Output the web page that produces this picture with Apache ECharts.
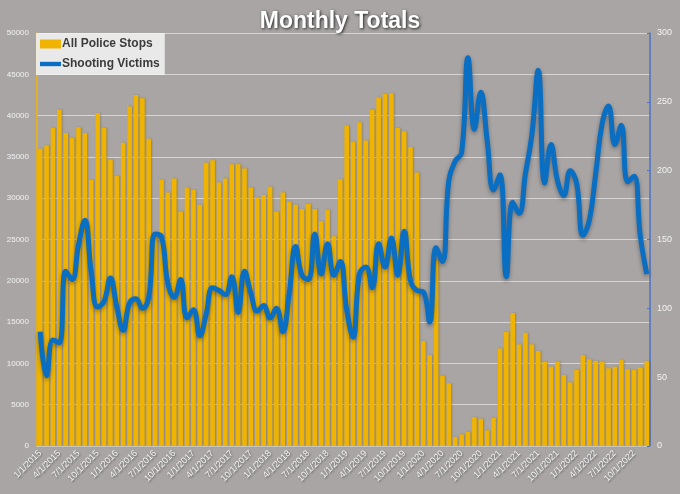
<!DOCTYPE html>
<html>
<head>
<meta charset="utf-8">
<script src="https://cdn.jsdelivr.net/npm/echarts@6/dist/echarts.min.js"></script>
<style>
html,body{margin:0;padding:0;background:#a9a5a5;}
#chart{width:680px;height:494px;}
</style>
</head>
<body>
<div id="chart"></div>
<script>
// Category labels: monthly, 1/1/2015 .. 12/1/2022
const years = [2015, 2016, 2017, 2018, 2019, 2020, 2021, 2022];
const monthNums = [1,2,3,4,5,6,7,8,9,10,11,12];
const categories = [];
years.forEach(y => monthNums.forEach(m => categories.push(m + '/1/' + y)));

// All Police Stops (left axis)
const policeStops = [
  36000, 36400, 38500, 40700, 37900, 37300, 38600, 37900, 32200, 40300, 38500, 34700,
  32700, 36700, 41100, 42500, 42100, 37200, 25500, 32200, 30700, 32400, 28400, 31300,
  31000, 29200, 34300, 34600, 31900, 32400, 34100, 34100, 33600, 31300, 30100, 30400,
  31400, 28400, 30700, 29600, 29200, 28700, 29300, 28700, 27200, 28600, 25400, 32300,
  38800, 36800, 39200, 37000, 40700, 42200, 42600, 42700, 38500, 38100, 36200, 33100,
  12700, 11000, 22500, 8500, 7600, 1100, 1400, 1700, 3500, 3300, 1900, 3400,
  11800, 13800, 16100, 12300, 13700, 12300, 11500, 10200, 9600, 10200, 8600, 7700,
  9200, 11000, 10500, 10300, 10200, 9400, 9600, 10400, 9300, 9200, 9500, 10300
];

// Shooting Victims (right axis)
const shootingVictims = [
  83, 51, 77, 75, 127, 121, 146, 164, 126, 101, 105, 122,
  101, 84, 104, 107, 100, 108, 154, 152, 118, 108, 121, 93,
  99, 80, 96, 115, 113, 110, 123, 97, 127, 111, 98, 102,
  93, 100, 83, 111, 145, 124, 121, 154, 125, 147, 124, 134,
  99, 79, 125, 130, 115, 147, 130, 151, 124, 156, 120, 113,
  112, 90, 144, 134, 193, 207, 213, 282, 230, 257, 222, 186,
  197, 123, 177, 169, 198, 226, 273, 191, 219, 193, 182, 200,
  191, 153, 164, 198, 234, 247, 219, 233, 192, 196, 152, 125
];

const leftTicks = { min: 0, max: 50000, interval: 5000 };
const rightTicks = { min: 0, max: 300, interval: 50 };

const chart = echarts.init(document.getElementById('chart'), null, { renderer: 'canvas' });
chart.setOption({
  backgroundColor: '#a9a5a5',
  animation: false,
  title: {
    text: 'Monthly Totals',
    left: 'center',
    top: 5,
    textStyle: {
      color: '#ffffff',
      fontFamily: 'Liberation Sans',
      fontWeight: 'bold',
      fontSize: 23,
      textShadowColor: 'rgba(30,30,30,0.95)',
      textShadowBlur: 3,
      textShadowOffsetX: 1,
      textShadowOffsetY: 1
    }
  },
  legend: {
    orient: 'vertical',
    left: 36,
    top: 33,
    padding: [5, 5, 5, 4],
    itemGap: 8,
    itemWidth: 21,
    itemHeight: 9,
    symbolKeepAspect: true,
    backgroundColor: 'rgba(245,245,245,0.85)',
    textStyle: {
      color: '#3b3b3b',
      fontFamily: 'Liberation Sans',
      fontWeight: 'bold',
      fontSize: 12,
      padding: [0, 0, 0, -4]
    },
    data: [
      { name: 'All Police Stops', icon: 'rect' },
      { name: 'Shooting Victims', icon: 'path://M0,0L24,0L24,5L0,5Z' }
    ]
  },
  grid: { left: 37, right: 30, top: 33, bottom: 48 },
  xAxis: {
    type: 'category',
    data: categories,
    boundaryGap: true,
    axisLine: { lineStyle: { color: '#cfcfcf', width: 1 } },
    axisTick: { show: false },
    axisLabel: {
      interval: 2,
      rotate: 45,
      color: '#f4f4f4',
      fontFamily: 'Liberation Sans',
      fontSize: 9,
      margin: 6,
      textShadowColor: 'rgba(0,0,0,0.45)',
      textShadowBlur: 2,
      textShadowOffsetX: 1,
      textShadowOffsetY: 1
    }
  },
  yAxis: [
    {
      type: 'value',
      min: leftTicks.min,
      max: leftTicks.max,
      interval: leftTicks.interval,
      position: 'left',
      axisLine: { show: true, lineStyle: { color: '#f0b400', width: 1.5 } },
      axisTick: { show: false },
      splitLine: { show: true, lineStyle: { color: '#d6d4d4', width: 1 } },
      axisLabel: {
        color: '#f2f2f2',
        fontFamily: 'Liberation Sans',
        fontSize: 8,
        margin: 8,
        formatter: v => String(v)
      }
    },
    {
      type: 'value',
      min: rightTicks.min,
      max: rightTicks.max,
      interval: rightTicks.interval,
      position: 'right',
      axisLine: { show: true, lineStyle: { color: '#4a72c8', width: 1.5 } },
      axisTick: { show: true, inside: true, length: 3, lineStyle: { color: '#4a72c8' } },
      splitLine: { show: false },
      axisLabel: {
        color: '#f2f2f2',
        fontFamily: 'Liberation Sans',
        fontSize: 9,
        margin: 7,
        formatter: v => String(v)
      }
    }
  ],
  series: [
    {
      name: 'All Police Stops',
      type: 'bar',
      yAxisIndex: 0,
      data: policeStops,
      barCategoryGap: '28%',
      itemStyle: {
        color: '#f0b400',
        shadowColor: 'rgba(90,70,0,0.35)',
        shadowBlur: 2,
        shadowOffsetX: 1
      }
    },
    {
      name: 'Shooting Victims',
      type: 'line',
      yAxisIndex: 1,
      data: shootingVictims,
      smooth: 0.45,
      showSymbol: false,
      symbol: 'none',
      itemStyle: { color: '#0a6fc2' },
      lineStyle: {
        color: '#0a6fc2',
        width: 5,
        shadowColor: 'rgba(0,0,0,0.35)',
        shadowBlur: 4,
        shadowOffsetY: 2
      }
    }
  ]
});
</script>
</body>
</html>
